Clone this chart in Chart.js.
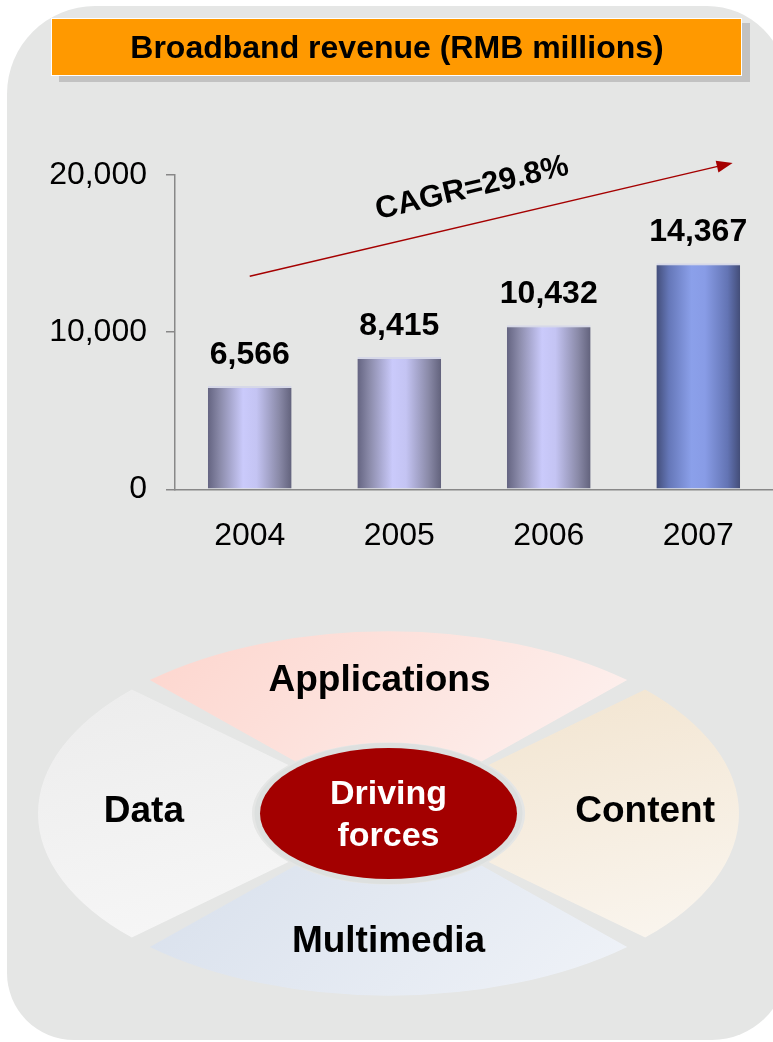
<!DOCTYPE html>
<html>
<head>
<meta charset="utf-8">
<title>Broadband revenue</title>
<script src="https://cdn.jsdelivr.net/npm/chart.js"></script>
<style>
  html, body { margin: 0; padding: 0; background: #fff; overflow: hidden; }
  body { width: 773px; height: 1042px; position: relative; }
  #panel {
    position: absolute; left: 7px; top: 6px; width: 780px; height: 1034px;
    background: #e5e6e5; border-radius: 88px 80px 75px 67px;
  }
  #revenueChart { position: absolute; left: 0; top: 0; }
  #forcesChart { position: absolute; left: 0; top: 443px; }
</style>
</head>
<body>
<div id="panel"></div>
<canvas id="revenueChart" width="773" height="600"></canvas>
<canvas id="forcesChart" width="773" height="741"></canvas>

<script>
    const years = ['2004', '2005', '2006', '2007'];
    const revenue = [6566, 8415, 10432, 14367];
    const yTicks = [0, 10000, 20000];
    const titleText = 'Broadband revenue (RMB millions)';
    const cagrText = 'CAGR=29.8%';
    // trend arrow ends, as [category index, value]
    const trendFrom = [0, 13550];
    const trendTo = [3.23, 20750];

    const forces = ['Applications', 'Content', 'Multimedia', 'Data'];
    const forceWeights = [1, 1, 1, 1];
    const hubText = ['Driving', 'forces'];

    const FONT = '"Liberation Sans", Arial, Helvetica, sans-serif';
    Chart.defaults.font.family = FONT;
    Chart.defaults.color = '#000';

    const fmt = v => v.toLocaleString('en-US');

    // bar shading: dark edges, light middle; the latest year is a deeper blue
    const shadeStops = [0, 0.15, 0.42, 0.58, 0.85, 1];
    const barShade = ['#646481', '#8c8cab', '#cacafb', '#c4c4f3', '#8a8aa8', '#62627c'];
    const lastShade = ['#434e7a', '#6577b8', '#8ba0ea', '#889ce6', '#6374b4', '#434d78'];

    function barFill(c) {
        const chart = c.chart;
        const xs = chart.scales.x;
        if (!xs || !chart.chartArea) return barShade[2];
        const cx = xs.getPixelForValue(c.dataIndex);
        const half = xs.width / years.length * 0.56 / 2;
        const g = chart.ctx.createLinearGradient(cx - half, 0, cx + half, 0);
        const cols = c.dataIndex === years.length - 1 ? lastShade : barShade;
        shadeStops.forEach((s, i) => g.addColorStop(s, cols[i]));
        return g;
    }

    // orange heading box and the growth arrow
    const headerAndTrend = {
        id: 'headerAndTrend',
        beforeDraw(chart) {
            const ctx = chart.ctx;
            ctx.save();
            ctx.fillStyle = '#c2c2c2';
            ctx.fillRect(59, 23, 691, 59);
            ctx.fillStyle = '#ff9900';
            ctx.fillRect(51, 18, 691, 58);
            ctx.strokeStyle = '#ffffff';
            ctx.lineWidth = 1;
            ctx.strokeRect(51.5, 18.5, 690, 57);
            ctx.font = 'bold 32px ' + FONT;
            ctx.fillStyle = '#000';
            ctx.textAlign = 'center';
            ctx.textBaseline = 'middle';
            ctx.fillText(titleText, 397, 49);
            ctx.restore();
        },
        afterDraw(chart) {
            const {ctx, scales: {x, y}} = chart;
            const x0 = x.getPixelForValue(trendFrom[0]), y0 = y.getPixelForValue(trendFrom[1]);
            const x1 = x.getPixelForValue(trendTo[0]), y1 = y.getPixelForValue(trendTo[1]);
            const a = Math.atan2(y1 - y0, x1 - x0);
            ctx.save();
            ctx.strokeStyle = '#a50000';
            ctx.fillStyle = '#a50000';
            ctx.lineWidth = 1.5;
            ctx.beginPath();
            ctx.moveTo(x0, y0);
            ctx.lineTo(x1 - Math.cos(a) * 12, y1 - Math.sin(a) * 12);
            ctx.stroke();
            ctx.translate(x1, y1);
            ctx.rotate(a);
            ctx.beginPath();
            ctx.moveTo(0, 0);
            ctx.lineTo(-16, -6);
            ctx.lineTo(-16, 6);
            ctx.closePath();
            ctx.fill();
            ctx.restore();

            // label sits above the middle of the arrow, following its slope
            const t = 0.477;
            const mx = x0 + (x1 - x0) * t, my = y0 + (y1 - y0) * t;
            ctx.save();
            ctx.translate(mx + Math.sin(a) * 26, my - Math.cos(a) * 26);
            ctx.rotate(a);
            ctx.font = 'bold 31px ' + FONT;
            ctx.fillStyle = '#000';
            ctx.textAlign = 'center';
            ctx.textBaseline = 'alphabetic';
            ctx.fillText(cagrText, 0, 0);
            ctx.restore();
        }
    };

    const valueLabels = {
        id: 'valueLabels',
        afterDatasetsDraw(chart) {
            const ctx = chart.ctx;
            const meta = chart.getDatasetMeta(0);
            ctx.save();
            ctx.font = 'bold 32px ' + FONT;
            ctx.fillStyle = '#000';
            ctx.textAlign = 'center';
            ctx.textBaseline = 'alphabetic';
            meta.data.forEach((bar, i) => ctx.fillText(fmt(revenue[i]), bar.x, bar.y - 22));
            ctx.restore();
        }
    };

    new Chart(document.getElementById('revenueChart'), {
        type: 'bar',
        data: {
            labels: years,
            datasets: [{
                data: revenue,
                backgroundColor: barFill,
                borderColor: '#d6d8e8',
                borderWidth: {top: 2, left: 0, right: 0, bottom: 0},
                barPercentage: 0.56,
                categoryPercentage: 1
            }]
        },
        options: {
            responsive: false,
            animation: false,
            events: [],
            layout: {padding: {top: 174.7, left: 0, right: 0, bottom: 0}},
            plugins: {legend: {display: false}, tooltip: {enabled: false}},
            scales: {
                x: {
                    grid: {drawOnChartArea: false, drawTicks: false},
                    border: {color: '#888', width: 1.5},
                    ticks: {font: {size: 32}, padding: 28, color: '#000'},
                    afterFit: s => { s.height = 600 - 489.3; }
                },
                y: {
                    min: 0,
                    max: 20000,
                    afterBuildTicks: s => { s.ticks = yTicks.map(v => ({value: v})); },
                    grid: {drawOnChartArea: false, drawTicks: true, tickLength: 9, color: '#888', lineWidth: 1.5},
                    border: {color: '#888', width: 1.5},
                    ticks: {font: {size: 32}, padding: 19, color: '#000', callback: v => fmt(v)},
                    afterFit: s => { s.width = 175; }
                }
            }
        },
        plugins: [headerAndTrend, valueLabels]
    });

    // ---- driving forces wheel: a doughnut flattened into an ellipse ----
    const SQUASH = 0.52;
    const SLICE_GAP = 22;
    const sliceShade = [['#fdd5cd', '#fdf2f0'], ['#f2e4cf', '#faf6f0'], ['#d8e0ec', '#f0f3f8'], ['#ececec', '#f7f7f7']];
    // gradient run for each slice, in radius units: x0, y0, x1, y1
    const sliceRun = [[-0.7, -1, 0.7, -0.3], [0.3, -0.7, 1, 0.7], [-0.7, 0.3, 0.7, 1], [-1, -0.7, -0.3, 0.7]];
    // small pixel nudges for the slice captions
    const captionNudge = [[-9, 0], [6, 0], [0, 0], [6, 0]];

    function sliceFill(c) {
        const a = c.chart.chartArea;
        if (!a) return sliceShade[c.dataIndex][0];
        const cx = (a.left + a.right) / 2, cy = (a.top + a.bottom) / 2;
        const R = Math.min(a.width, a.height) / 2;
        const r = sliceRun[c.dataIndex];
        const g = c.chart.ctx.createLinearGradient(cx + r[0] * R, cy + r[1] * R, cx + r[2] * R, cy + r[3] * R);
        g.addColorStop(0, sliceShade[c.dataIndex][0]);
        g.addColorStop(1, sliceShade[c.dataIndex][1]);
        return g;
    }

    const squash = {
        id: 'squash',
        beforeDatasetsDraw(chart) {
            const {ctx, chartArea: a} = chart;
            const cx = (a.left + a.right) / 2, cy = (a.top + a.bottom) / 2;
            ctx.save();
            ctx.translate(cx, cy);
            ctx.scale(1, SQUASH);
            ctx.translate(-cx, -cy);
        },
        afterDatasetsDraw(chart) {
            chart.ctx.restore();
        }
    };

    const hubAndLabels = {
        id: 'hubAndLabels',
        afterDraw(chart) {
            const ctx = chart.ctx;
            const meta = chart.getDatasetMeta(0);
            // arcs are painted half a gap beyond their stored radius
            const cx = meta.data[0].x, cy = meta.data[0].y, R = meta.data[0].outerRadius + SLICE_GAP / 2;
            ctx.save();
            ctx.fillStyle = '#dde0df';
            ctx.beginPath();
            ctx.ellipse(cx, cy, 134, 70.5, 0, 0, Math.PI * 2);
            ctx.fill();
            ctx.fillStyle = '#a30000';
            ctx.beginPath();
            ctx.ellipse(cx, cy, 128.5, 65.5, 0, 0, Math.PI * 2);
            ctx.fill();

            ctx.textAlign = 'center';
            ctx.textBaseline = 'middle';
            ctx.fillStyle = '#fff';
            ctx.font = 'bold 34px ' + FONT;
            ctx.fillText(hubText[0], cx, cy - 19);
            ctx.fillText(hubText[1], cx, cy + 23);

            ctx.fillStyle = '#000';
            ctx.font = 'bold 37px ' + FONT;
            meta.data.forEach((arc, i) => {
                const mid = (arc.startAngle + arc.endAngle) / 2;
                ctx.fillText(chart.data.labels[i],
                    cx + captionNudge[i][0] + Math.cos(mid) * R * 0.715,
                    cy - 2 + captionNudge[i][1] + Math.sin(mid) * R * 0.715 * SQUASH);
            });
            ctx.restore();
        }
    };

    new Chart(document.getElementById('forcesChart'), {
        type: 'doughnut',
        data: {
            labels: forces,
            datasets: [{data: forceWeights, backgroundColor: sliceFill, borderWidth: 0, spacing: SLICE_GAP}]
        },
        options: {
            responsive: false,
            animation: false,
            events: [],
            rotation: -45,
            cutout: '37%',
            layout: {padding: {top: 20, bottom: 20, left: 38, right: 34}},
            plugins: {legend: {display: false}, tooltip: {enabled: false}}
        },
        plugins: [squash, hubAndLabels]
    });
</script>
</body>
</html>
